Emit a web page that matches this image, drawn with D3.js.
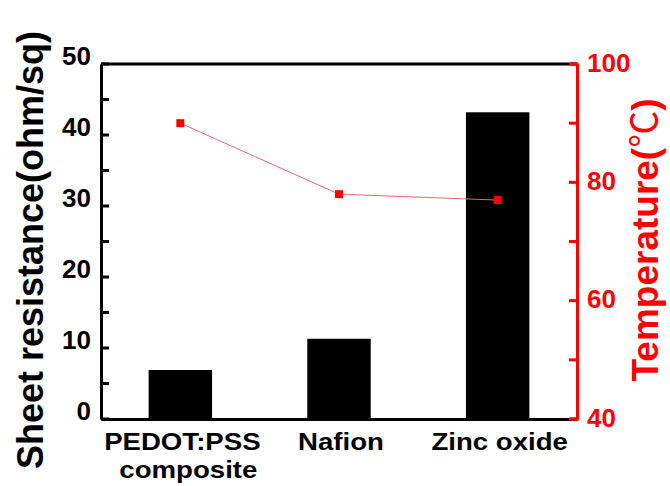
<!DOCTYPE html>
<html>
<head>
<meta charset="utf-8">
<script src="https://cdn.jsdelivr.net/npm/d3@7"></script>
<style>
  body { margin: 0; background: #fff; }
  text { font-family: "Liberation Sans", Arial, sans-serif; font-weight: bold; }
</style>
</head>
<body>
<div id="chart"></div>
<script>
// values
const categories = ["PEDOT:PSS composite", "Nafion", "Zinc oxide"];
const categoryLines = [["PEDOT:PSS", "composite"], ["Nafion"], ["Zinc oxide"]];
const resistance = [6.9, 11.3, 43.2];
const temperature = [90, 78, 77];
const leftTicks = [0, 10, 20, 30, 40, 50];
const leftMinor = [5, 15, 25, 35, 45];
const rightTicks = [40, 60, 80, 100];
const rightMinor = [50, 70, 90];

const width = 670, height = 486;
const plotLeft = 101, plotRight = 577, plotTop = 64, plotBottom = 419;

const svg = d3.select("#chart").append("svg")
    .attr("width", width)
    .attr("height", height);

const x = d3.scaleBand()
    .domain(categories)
    .range([plotLeft, plotRight])
    .paddingInner(0.6)
    .paddingOuter(0.3);

const y = d3.scaleLinear().domain([0, 50]).range([plotBottom, plotTop]);
const y2 = d3.scaleLinear().domain([40, 100]).range([plotBottom, plotTop]);

// bars
svg.selectAll(".bar")
    .data(resistance)
    .enter().append("rect")
    .attr("x", (d, i) => x(categories[i]))
    .attr("y", d => y(d))
    .attr("width", x.bandwidth())
    .attr("height", d => y(0) - y(d))
    .attr("fill", "#000");

// top frame line
svg.append("line")
    .attr("x1", plotLeft).attr("x2", plotRight)
    .attr("y1", plotTop).attr("y2", plotTop)
    .attr("stroke", "#000")
    .attr("stroke-width", 3);

// bottom axis
const xAxis = svg.append("g")
    .attr("transform", `translate(0,${plotBottom})`)
    .call(d3.axisBottom(x).tickSize(0).tickFormat(""));
xAxis.select(".domain").attr("stroke", "#000").attr("stroke-width", 3);

// category labels, a bit wide like the original
categoryLines.forEach((lines, i) => {
    const cx = x(categories[i]) + x.bandwidth() / 2 + 2;
    lines.forEach((s, j) => {
        svg.append("text")
            .attr("transform", `translate(${cx + j * 6},${450 + j * 28}) scale(1.15,1)`)
            .attr("text-anchor", "middle")
            .attr("font-size", 24)
            .attr("fill", "#000")
            .text(s);
    });
});

// left axis
const yAxis = svg.append("g")
    .attr("transform", `translate(${plotLeft},0)`)
    .call(d3.axisLeft(y).tickValues(leftTicks).tickSize(0).tickPadding(10));
yAxis.select(".domain").attr("stroke", "#000").attr("stroke-width", 3);
yAxis.selectAll(".tick text")
    .attr("font-size", 26)
    .attr("fill", "#000")
    .attr("dy", "0.32em")
    .attr("y", -8);

// right axis (red)
const y2Axis = svg.append("g")
    .attr("transform", `translate(${plotRight},0)`)
    .call(d3.axisRight(y2).tickValues(rightTicks).tickSize(0).tickPadding(10));
y2Axis.select(".domain").attr("stroke", "#ff0000").attr("stroke-width", 3);
y2Axis.selectAll(".tick text")
    .attr("font-size", 26)
    .attr("fill", "#ff0000")
    .attr("dy", "0.32em")
    .attr("y", -1);

// inward tick marks
svg.selectAll(".ltick")
    .data(leftTicks.concat(leftMinor))
    .enter().append("line")
    .attr("x1", plotLeft).attr("x2", plotLeft + 8)
    .attr("y1", d => y(d)).attr("y2", d => y(d))
    .attr("stroke", "#000").attr("stroke-width", 3);

svg.selectAll(".rtick")
    .data(rightTicks.concat(rightMinor))
    .enter().append("line")
    .attr("x1", plotRight).attr("x2", plotRight - 8)
    .attr("y1", d => y2(d)).attr("y2", d => y2(d))
    .attr("stroke", "#ff0000").attr("stroke-width", 3);

// red corner pieces on frame
svg.append("line")
    .attr("x1", plotRight - 6).attr("x2", plotRight + 1.5)
    .attr("y1", plotTop).attr("y2", plotTop)
    .attr("stroke", "#ff0000").attr("stroke-width", 3);
svg.append("line")
    .attr("x1", plotRight - 6).attr("x2", plotRight + 1.5)
    .attr("y1", plotBottom).attr("y2", plotBottom)
    .attr("stroke", "#ff0000").attr("stroke-width", 3);

// temperature line
const line = d3.line()
    .x((d, i) => x(categories[i]) + x.bandwidth() / 2)
    .y(d => y2(d));

svg.append("path")
    .datum(temperature)
    .attr("d", line)
    .attr("fill", "none")
    .attr("stroke", "#f06a6a")
    .attr("stroke-width", 1);

svg.selectAll(".pt")
    .data(temperature)
    .enter().append("rect")
    .attr("x", (d, i) => x(categories[i]) + x.bandwidth() / 2 - 4)
    .attr("y", d => y2(d) - 4)
    .attr("width", 8)
    .attr("height", 8)
    .attr("fill", "#ff0000");

// axis titles
svg.append("text")
    .attr("transform", `translate(43,${250}) rotate(-90)`)
    .attr("text-anchor", "middle")
    .attr("font-size", 36)
    .attr("fill", "#000")
    .text("Sheet resistance(ohm/sq)");

const t2 = svg.append("text")
    .attr("transform", `translate(658,${240}) rotate(-90)`)
    .attr("text-anchor", "middle")
    .attr("font-size", 37)
    .attr("fill", "#ff0000");
t2.append("tspan").text("Temperature(");
t2.append("tspan").attr("font-weight", "normal").attr("font-family", "Noto Sans CJK SC").text("℃");
t2.append("tspan").text(")");
</script>
</body>
</html>
